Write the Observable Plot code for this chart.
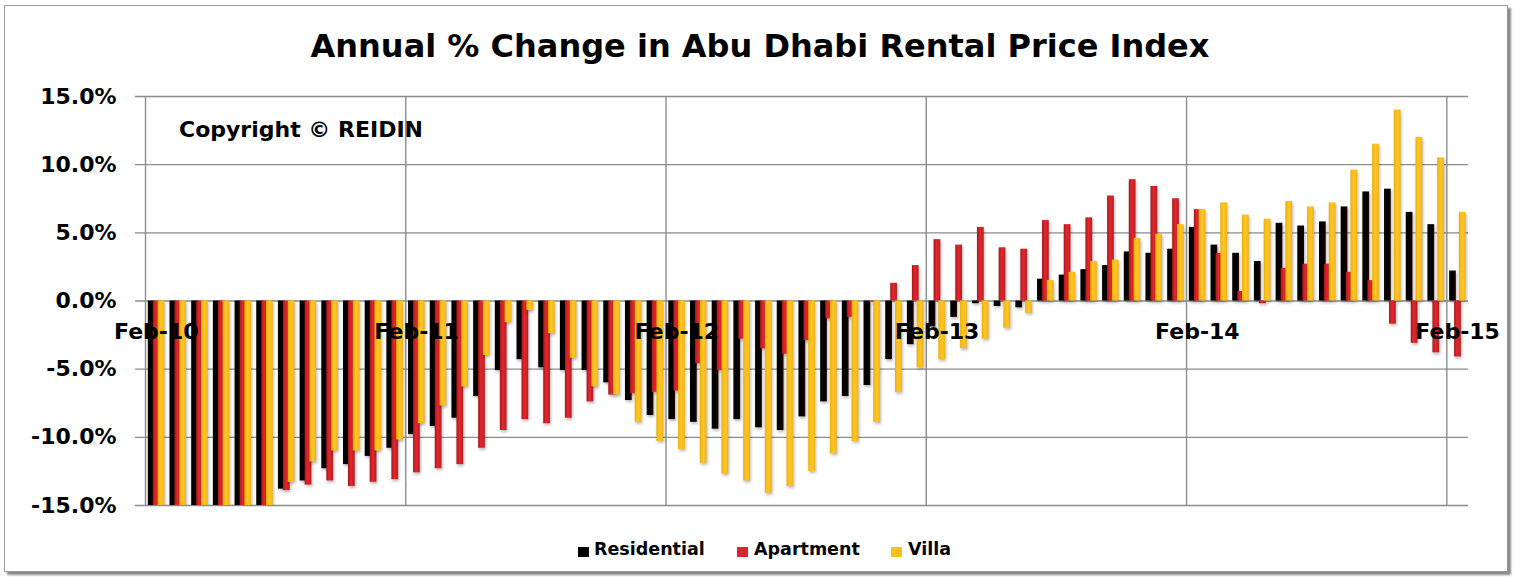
<!DOCTYPE html>
<html><head><meta charset="utf-8">
<script src="https://cdn.jsdelivr.net/npm/d3@7"></script>
<script src="https://cdn.jsdelivr.net/npm/@observablehq/plot@0.6"></script>
<style>
body{margin:0;background:#fff;}
#wrap{position:relative;width:1515px;height:577px;overflow:hidden;font-family:"DejaVu Sans",sans-serif;font-weight:bold;color:#000;}
#wrap svg{position:absolute;left:0;top:0;}
#frame{position:absolute;left:4px;top:5px;width:1502px;height:565px;border:1px solid #9a9a9a;box-shadow:3px 3px 2px #8a8a8a;pointer-events:none;}
#title{position:absolute;left:0;width:1520px;top:30px;text-align:center;font-size:32px;line-height:1;white-space:nowrap;}
#copy{position:absolute;left:179px;top:119px;font-size:22px;line-height:1;white-space:nowrap;}
.lg{position:absolute;top:541px;font-size:17.5px;line-height:1;white-space:nowrap;}
.sq{position:absolute;top:547px;width:11px;height:10px;}
</style></head>
<body>
<div id="wrap">
  <div id="title">Annual % Change in Abu Dhabi Rental Price Index</div>
  <div id="copy">Copyright © REIDIN</div>
  <div class="sq" style="left:578px;background:#000"></div><div class="lg" style="left:594px">Residential</div>
  <div class="sq" style="left:737px;background:#d8262c"></div><div class="lg" style="left:754px">Apartment</div>
  <div class="sq" style="left:891px;background:#f7c01c"></div><div class="lg" style="left:908px">Villa</div>
  <div id="frame"></div>
</div>
<script>
// Monthly annual % change, Feb-10 (index 0) to Feb-15 (index 60)
const residential = [-15,-15,-15,-15,-15,-15,-13.8,-13.2,-12.3,-12.0,-11.4,-10.8,
  -9.8,-9.2,-8.6,-7.0,-5.1,-4.3,-4.9,-5.1,-5.1,-6.0,-7.3,-8.4,
  -8.7,-8.9,-9.4,-8.7,-9.3,-9.5,-8.5,-7.4,-7.0,-6.2,-4.3,-3.2,
  -1.9,-1.2,-0.2,-0.4,-0.5,1.6,1.9,2.3,2.6,3.6,3.5,3.8,
  5.4,4.1,3.5,2.9,5.7,5.5,5.8,6.9,8.0,8.2,6.5,5.6,
  2.2];
const apartment = [-15,-15,-15,-15,-15,-15,-13.9,-13.5,-13.2,-13.6,-13.3,-13.1,
  -12.6,-12.3,-12.0,-10.8,-9.5,-8.7,-9.0,-8.6,-7.4,-6.9,-6.8,-6.7,
  -6.6,-4.6,-5.1,-2.8,-3.5,-3.9,-2.9,-1.3,-1.2,-0.1,1.3,2.6,
  4.5,4.1,5.4,3.9,3.8,5.9,5.6,6.1,7.7,8.9,8.4,7.5,
  6.7,3.5,0.7,-0.2,2.4,2.7,2.7,2.1,1.5,-1.7,-3.1,-3.8,
  -4.1];
const villa = [-15,-15,-15,-15,-15,-15,-13.3,-11.8,-11.0,-11.0,-11.0,-10.2,
  -9.0,-7.7,-6.3,-4.0,-1.6,-0.7,-2.4,-4.2,-6.3,-6.9,-8.9,-10.3,
  -10.9,-11.9,-12.7,-13.2,-14.1,-13.6,-12.5,-11.2,-10.3,-8.9,-6.7,-4.9,
  -4.3,-3.5,-2.8,-2.0,-0.9,1.5,2.1,2.9,3.0,4.6,4.9,5.6,
  6.7,7.2,6.3,6.0,7.3,6.9,7.2,9.6,11.5,14.0,12.0,10.5,
  6.5];
const xTickLabels = ["Feb-10","Feb-11","Feb-12","Feb-13","Feb-14","Feb-15"];
const xTickIndex = [0,12,24,36,48,60];
const yTicks = [-15,-10,-5,0,5,10,15];

const nMonths = residential.length;
const rows = arr => arr.map((v,i)=>({i, v}));
const grid = "#8c8c8c";
const barW = 0.31;
const offs = {r:0.13, a:0.36, v:0.58};

const bar = (arr, off, fill) => Plot.rectY(rows(arr), {
  x1: d => d.i + off, x2: d => d.i + off + barW, y1: 0, y2: d => d.v, fill, clip: true
});

const chart = Plot.plot({
  width: 1515, height: 577,
  marginLeft: 145, marginRight: 47, marginTop: 96, marginBottom: 72,
  style: {background: "transparent", overflow: "visible"},
  x: {domain: [0, nMonths], axis: null},
  y: {domain: [-15, 15], axis: null},
  marks: [
    Plot.ruleY(yTicks, {x1: -0.46, x2: nMonths, stroke: grid, strokeWidth: 1.4}),
    Plot.ruleX(xTickIndex, {y1: -15, y2: 15, stroke: grid, strokeWidth: 1.4}),
    bar(residential, offs.r, "url(#gRes)"),
    bar(apartment, offs.a, "url(#gApt)"),
    bar(villa, offs.v, "url(#gVil)"),
    Plot.text(yTicks, {x: 0, y: d => d, text: d => d.toFixed(1) + "%", textAnchor: "end", dx: -29,
      fontSize: 22, fontWeight: "bold", fill: "#000", fontFamily: "DejaVu Sans"}),
    Plot.text(xTickIndex.map((t,k)=>({t, label: xTickLabels[k]})), {x: d => d.t + 0.5, y: 0, text: "label", dy: 31,
      fontSize: 22, fontWeight: "bold", fill: "#000", fontFamily: "DejaVu Sans"})
  ]
});

const svg = d3.select(chart);
const defs = svg.insert("defs", ":first-child");
function grad(id, stops){
  const g = defs.append("linearGradient").attr("id", id).attr("x1", 0).attr("x2", 1).attr("y1", 0).attr("y2", 0);
  stops.forEach(([o,c]) => g.append("stop").attr("offset", o).attr("stop-color", c));
}
grad("gRes", [[0,"#000"],[0.7,"#050000"],[1,"#2a0400"]]);
grad("gApt", [[0,"#a3191b"],[0.45,"#e6262d"],[1,"#b51f24"]]);
grad("gVil", [[0,"#eeb000"],[0.5,"#ffc62a"],[1,"#f1b512"]]);
svg.selectAll('g[aria-label="rect"]').style("filter", "drop-shadow(1px 2px 1.5px rgba(0,0,0,0.28))");

const wrap = document.getElementById("wrap");
wrap.insertBefore(chart, wrap.firstChild);
</script>
</body></html>
